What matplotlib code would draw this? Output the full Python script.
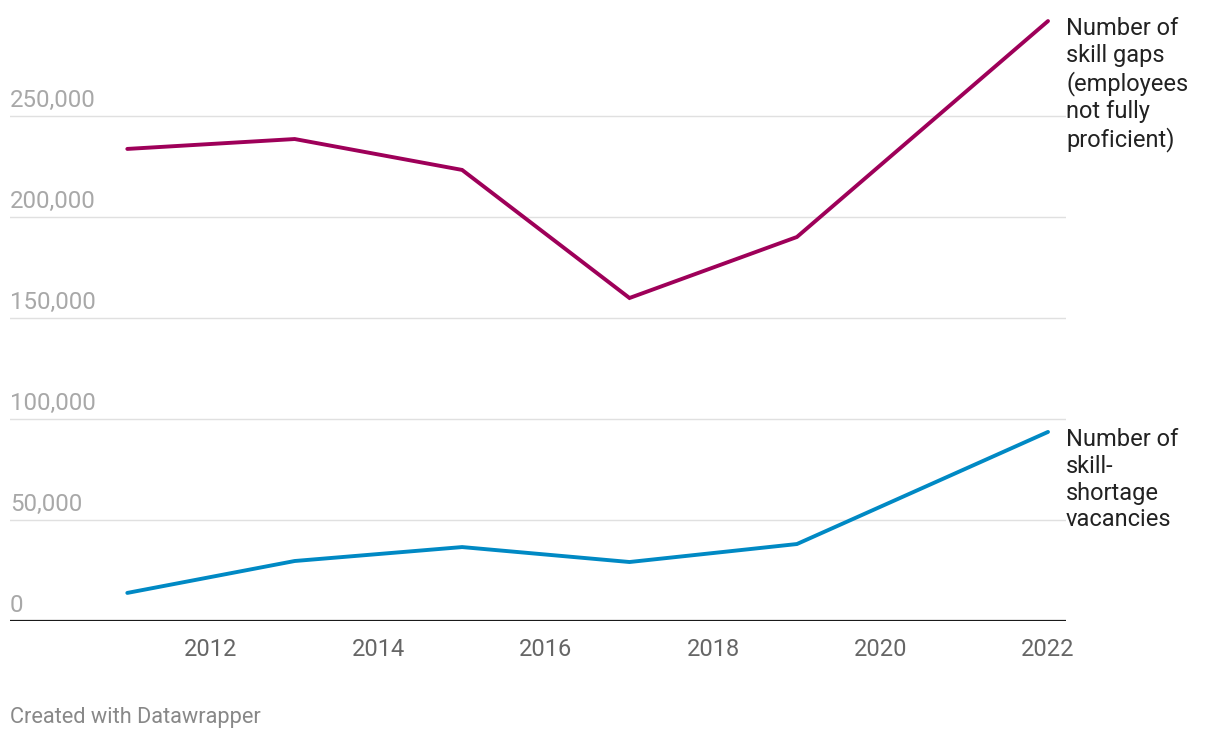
import matplotlib
matplotlib.use("Agg")
import matplotlib.pyplot as plt

plt.rcParams['font.family'] = ['Roboto', 'DejaVu Sans']

years = [2011, 2013, 2015, 2017, 2019, 2022]
skill_gaps = [233700, 238600, 223300, 159900, 190100, 297000]
shortage_vacancies = [13900, 29700, 36600, 29200, 38100, 93600]
gap_label = "Number of\nskill gaps\n(employees\nnot fully\nproficient)"
vac_label = "Number of\nskill-\nshortage\nvacancies"
y_ticks = [0, 50000, 100000, 150000, 200000, 250000]
y_tick_labels = ["0", "50,000", "100,000", "150,000", "200,000", "250,000"]
x_ticks = [2012, 2014, 2016, 2018, 2020, 2022]

W, H = 1220, 738
fig = plt.figure(figsize=(W / 100, H / 100), dpi=100)
left, right, bottom, top = 10, 1066, 621, 15
ax = fig.add_axes([left / W, 1 - bottom / H, (right - left) / W, (bottom - top) / H])

ax.set_xlim(2012 - 201 / 83.7, 2022 + 18 / 83.7)
ax.set_ylim(0, 300000)

purple = "#9e0059"
blue = "#0089c4"
ax.plot(years, skill_gaps, color=purple, lw=2.8, solid_capstyle='round', solid_joinstyle='miter', zorder=3)
ax.plot(years, shortage_vacancies, color=blue, lw=2.8, solid_capstyle='round', solid_joinstyle='miter', zorder=3)

for t in y_ticks[1:]:
    ax.axhline(t, color="#e0e0e0", lw=1.0, zorder=1)
ax.axhline(0, color="#1a1a1a", lw=1.6, zorder=2)

for t, lab in zip(y_ticks, y_tick_labels):
    ax.annotate(lab, xy=(0, t), xycoords=('axes fraction', 'data'),
                xytext=(0, 3), textcoords='offset points',
                ha='left', va='bottom', fontsize=17.3, color="#a8a8a8")

for spine in ax.spines.values():
    spine.set_visible(False)
ax.set_yticks([])
ax.set_xticks(x_ticks)
ax.set_xticklabels([str(x) for x in x_ticks])
ax.tick_params(axis='x', length=0, pad=12, labelsize=17, labelcolor="#666666")

ax.annotate(gap_label, xy=(1, skill_gaps[-1]), xycoords=('axes fraction', 'data'),
            xytext=(0, 2.8), textcoords='offset points', ha='left', va='top',
            fontsize=17, color="#222222", linespacing=1.21, annotation_clip=False)
ax.annotate(vac_label, xy=(1, shortage_vacancies[-1]), xycoords=('axes fraction', 'data'),
            xytext=(0, 2.8), textcoords='offset points', ha='left', va='top',
            fontsize=17, color="#222222", linespacing=1.21, annotation_clip=False)

fig.text(10 / W, 1 - 718 / H, "Created with Datawrapper", ha='left', va='center',
         fontsize=15.7, color="#888888")

fig.savefig("out.png", dpi=100)
